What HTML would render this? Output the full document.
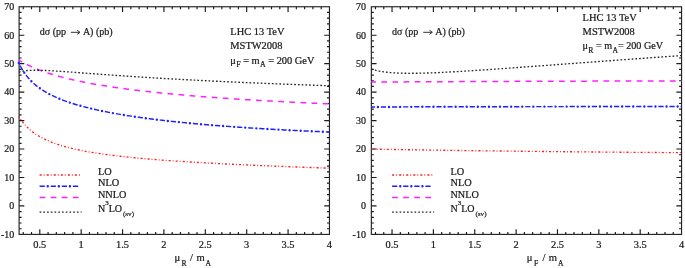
<!DOCTYPE html>
<html><head><meta charset="utf-8"><style>
html,body{margin:0;padding:0;background:#fff;}
svg{display:block;filter:blur(0.3px);}
.t{font-family:"Liberation Serif",serif;font-size:10px;fill:#1a1a1a;}
text{stroke:#1a1a1a;stroke-width:0.22px;}
.ti{font-family:"Liberation Serif",serif;font-size:10.6px;fill:#1a1a1a;}
.ts{font-family:"Liberation Serif",serif;font-size:7.6px;fill:#1a1a1a;}
</style></head><body>
<svg width="685" height="268" viewBox="0 0 685 268">
<rect width="685" height="268" fill="#fff"/>
<path d="M19.1,228.71h2.5M329.45,228.71h-2.5M19.1,223.02h2.5M329.45,223.02h-2.5M19.1,217.33h2.5M329.45,217.33h-2.5M19.1,211.63h2.5M329.45,211.63h-2.5M19.1,205.94h5.2M329.45,205.94h-5.2M19.1,200.25h2.5M329.45,200.25h-2.5M19.1,194.56h2.5M329.45,194.56h-2.5M19.1,188.87h2.5M329.45,188.87h-2.5M19.1,183.18h2.5M329.45,183.18h-2.5M19.1,177.49h5.2M329.45,177.49h-5.2M19.1,171.80h2.5M329.45,171.80h-2.5M19.1,166.10h2.5M329.45,166.10h-2.5M19.1,160.41h2.5M329.45,160.41h-2.5M19.1,154.72h2.5M329.45,154.72h-2.5M19.1,149.03h5.2M329.45,149.03h-5.2M19.1,143.34h2.5M329.45,143.34h-2.5M19.1,137.65h2.5M329.45,137.65h-2.5M19.1,131.96h2.5M329.45,131.96h-2.5M19.1,126.27h2.5M329.45,126.27h-2.5M19.1,120.58h5.2M329.45,120.58h-5.2M19.1,114.88h2.5M329.45,114.88h-2.5M19.1,109.19h2.5M329.45,109.19h-2.5M19.1,103.50h2.5M329.45,103.50h-2.5M19.1,97.81h2.5M329.45,97.81h-2.5M19.1,92.12h5.2M329.45,92.12h-5.2M19.1,86.43h2.5M329.45,86.43h-2.5M19.1,80.74h2.5M329.45,80.74h-2.5M19.1,75.05h2.5M329.45,75.05h-2.5M19.1,69.35h2.5M329.45,69.35h-2.5M19.1,63.66h5.2M329.45,63.66h-5.2M19.1,57.97h2.5M329.45,57.97h-2.5M19.1,52.28h2.5M329.45,52.28h-2.5M19.1,46.59h2.5M329.45,46.59h-2.5M19.1,40.90h2.5M329.45,40.90h-2.5M19.1,35.21h5.2M329.45,35.21h-5.2M19.1,29.52h2.5M329.45,29.52h-2.5M19.1,23.82h2.5M329.45,23.82h-2.5M19.1,18.13h2.5M329.45,18.13h-2.5M19.1,12.44h2.5M329.45,12.44h-2.5M23.24,234.4v-2.5M23.24,6.75v2.5M31.51,234.4v-2.5M31.51,6.75v2.5M39.79,234.4v-5.2M39.79,6.75v5.2M48.07,234.4v-2.5M48.07,6.75v2.5M56.34,234.4v-2.5M56.34,6.75v2.5M64.62,234.4v-2.5M64.62,6.75v2.5M72.89,234.4v-2.5M72.89,6.75v2.5M81.17,234.4v-5.2M81.17,6.75v5.2M89.45,234.4v-2.5M89.45,6.75v2.5M97.72,234.4v-2.5M97.72,6.75v2.5M106.00,234.4v-2.5M106.00,6.75v2.5M114.27,234.4v-2.5M114.27,6.75v2.5M122.55,234.4v-5.2M122.55,6.75v5.2M130.83,234.4v-2.5M130.83,6.75v2.5M139.10,234.4v-2.5M139.10,6.75v2.5M147.38,234.4v-2.5M147.38,6.75v2.5M155.65,234.4v-2.5M155.65,6.75v2.5M163.93,234.4v-5.2M163.93,6.75v5.2M172.21,234.4v-2.5M172.21,6.75v2.5M180.48,234.4v-2.5M180.48,6.75v2.5M188.76,234.4v-2.5M188.76,6.75v2.5M197.03,234.4v-2.5M197.03,6.75v2.5M205.31,234.4v-5.2M205.31,6.75v5.2M213.59,234.4v-2.5M213.59,6.75v2.5M221.86,234.4v-2.5M221.86,6.75v2.5M230.14,234.4v-2.5M230.14,6.75v2.5M238.41,234.4v-2.5M238.41,6.75v2.5M246.69,234.4v-5.2M246.69,6.75v5.2M254.97,234.4v-2.5M254.97,6.75v2.5M263.24,234.4v-2.5M263.24,6.75v2.5M271.52,234.4v-2.5M271.52,6.75v2.5M279.79,234.4v-2.5M279.79,6.75v2.5M288.07,234.4v-5.2M288.07,6.75v5.2M296.35,234.4v-2.5M296.35,6.75v2.5M304.62,234.4v-2.5M304.62,6.75v2.5M312.90,234.4v-2.5M312.90,6.75v2.5M321.17,234.4v-2.5M321.17,6.75v2.5" stroke="#1a1a1a" stroke-width="1.15" fill="none"/>
<rect x="19.1" y="6.75" width="310.35" height="227.65" fill="none" stroke="#222" stroke-width="1.15"/>
<path d="M18.80,116.38 L20.36,118.84 L21.92,121.05 L23.48,123.06 L25.04,124.88 L26.60,126.55 L28.16,128.09 L29.72,129.51 L31.28,130.83 L32.84,132.06 L34.40,133.20 L35.96,134.27 L37.52,135.28 L39.08,136.22 L40.64,137.12 L42.20,137.96 L43.76,138.76 L45.32,139.52 L46.88,140.24 L48.44,140.92 L50.00,141.58 L51.56,142.20 L53.12,142.80 L54.68,143.37 L56.24,143.92 L57.79,144.44 L59.35,144.95 L60.91,145.43 L62.47,145.90 L64.03,146.35 L65.59,146.78 L67.15,147.20 L68.71,147.61 L70.27,148.00 L71.83,148.38 L73.39,148.75 L74.95,149.10 L76.51,149.45 L78.07,149.78 L79.63,150.11 L81.19,150.42 L82.75,150.73 L84.31,151.03 L85.87,151.32 L87.43,151.60 L88.99,151.88 L90.55,152.15 L92.11,152.41 L93.67,152.66 L95.23,152.91 L96.79,153.16 L98.35,153.39 L99.91,153.63 L101.47,153.85 L103.03,154.08 L104.59,154.29 L106.15,154.51 L107.71,154.72 L109.27,154.92 L110.83,155.12 L112.39,155.32 L113.95,155.51 L115.51,155.70 L117.07,155.88 L118.63,156.06 L120.19,156.24 L121.75,156.42 L123.31,156.59 L124.87,156.76 L126.43,156.92 L127.99,157.09 L129.55,157.25 L131.11,157.40 L132.67,157.56 L134.23,157.71 L135.78,157.86 L137.34,158.01 L138.90,158.16 L140.46,158.30 L142.02,158.44 L143.58,158.58 L145.14,158.72 L146.70,158.85 L148.26,158.98 L149.82,159.12 L151.38,159.25 L152.94,159.37 L154.50,159.50 L156.06,159.62 L157.62,159.75 L159.18,159.87 L160.74,159.99 L162.30,160.11 L163.86,160.22 L165.42,160.34 L166.98,160.45 L168.54,160.56 L170.10,160.67 L171.66,160.78 L173.22,160.89 L174.78,161.00 L176.34,161.10 L177.90,161.21 L179.46,161.31 L181.02,161.42 L182.58,161.52 L184.14,161.62 L185.70,161.72 L187.26,161.81 L188.82,161.91 L190.38,162.01 L191.94,162.10 L193.50,162.20 L195.06,162.29 L196.62,162.38 L198.18,162.47 L199.74,162.56 L201.30,162.65 L202.86,162.74 L204.42,162.83 L205.98,162.92 L207.54,163.01 L209.10,163.09 L210.66,163.18 L212.22,163.26 L213.77,163.34 L215.33,163.43 L216.89,163.51 L218.45,163.59 L220.01,163.67 L221.57,163.75 L223.13,163.83 L224.69,163.91 L226.25,163.99 L227.81,164.06 L229.37,164.14 L230.93,164.22 L232.49,164.29 L234.05,164.37 L235.61,164.44 L237.17,164.52 L238.73,164.59 L240.29,164.66 L241.85,164.73 L243.41,164.81 L244.97,164.88 L246.53,164.95 L248.09,165.02 L249.65,165.09 L251.21,165.16 L252.77,165.23 L254.33,165.29 L255.89,165.36 L257.45,165.43 L259.01,165.50 L260.57,165.56 L262.13,165.63 L263.69,165.70 L265.25,165.76 L266.81,165.83 L268.37,165.89 L269.93,165.95 L271.49,166.02 L273.05,166.08 L274.61,166.14 L276.17,166.21 L277.73,166.27 L279.29,166.33 L280.85,166.39 L282.41,166.45 L283.97,166.51 L285.53,166.57 L287.09,166.63 L288.65,166.69 L290.21,166.75 L291.76,166.81 L293.32,166.87 L294.88,166.93 L296.44,166.99 L298.00,167.05 L299.56,167.10 L301.12,167.16 L302.68,167.22 L304.24,167.27 L305.80,167.33 L307.36,167.39 L308.92,167.44 L310.48,167.50 L312.04,167.55 L313.60,167.61 L315.16,167.66 L316.72,167.72 L318.28,167.77 L319.84,167.83 L321.40,167.88 L322.96,167.93 L324.52,167.99 L326.08,168.04 L327.64,168.09 L329.20,168.14" fill="none" stroke="#ff2020" stroke-width="1.35" stroke-dasharray="2.1 1.95 0.9 2.1" stroke-dashoffset="0.75" stroke-linecap="butt"/>
<path d="M18.80,63.03 L20.36,66.18 L21.92,68.98 L23.48,71.49 L25.04,73.77 L26.60,75.84 L28.16,77.75 L29.72,79.50 L31.28,81.12 L32.84,82.63 L34.40,84.03 L35.96,85.35 L37.52,86.59 L39.08,87.76 L40.64,88.86 L42.20,89.91 L43.76,90.90 L45.32,91.84 L46.88,92.74 L48.44,93.60 L50.00,94.43 L51.56,95.21 L53.12,95.97 L54.68,96.70 L56.24,97.40 L57.79,98.08 L59.35,98.73 L60.91,99.36 L62.47,99.97 L64.03,100.56 L65.59,101.13 L67.15,101.68 L68.71,102.22 L70.27,102.74 L71.83,103.25 L73.39,103.74 L74.95,104.22 L76.51,104.69 L78.07,105.15 L79.63,105.59 L81.19,106.03 L82.75,106.45 L84.31,106.86 L85.87,107.27 L87.43,107.66 L88.99,108.05 L90.55,108.43 L92.11,108.80 L93.67,109.16 L95.23,109.52 L96.79,109.87 L98.35,110.21 L99.91,110.54 L101.47,110.87 L103.03,111.19 L104.59,111.51 L106.15,111.82 L107.71,112.13 L109.27,112.43 L110.83,112.72 L112.39,113.01 L113.95,113.30 L115.51,113.58 L117.07,113.85 L118.63,114.12 L120.19,114.39 L121.75,114.65 L123.31,114.91 L124.87,115.16 L126.43,115.41 L127.99,115.66 L129.55,115.90 L131.11,116.14 L132.67,116.38 L134.23,116.61 L135.78,116.84 L137.34,117.07 L138.90,117.29 L140.46,117.51 L142.02,117.73 L143.58,117.94 L145.14,118.15 L146.70,118.36 L148.26,118.57 L149.82,118.77 L151.38,118.97 L152.94,119.17 L154.50,119.36 L156.06,119.55 L157.62,119.74 L159.18,119.93 L160.74,120.12 L162.30,120.30 L163.86,120.48 L165.42,120.66 L166.98,120.84 L168.54,121.01 L170.10,121.18 L171.66,121.35 L173.22,121.52 L174.78,121.69 L176.34,121.85 L177.90,122.02 L179.46,122.18 L181.02,122.34 L182.58,122.49 L184.14,122.65 L185.70,122.80 L187.26,122.95 L188.82,123.11 L190.38,123.25 L191.94,123.40 L193.50,123.55 L195.06,123.69 L196.62,123.83 L198.18,123.97 L199.74,124.11 L201.30,124.25 L202.86,124.39 L204.42,124.52 L205.98,124.66 L207.54,124.79 L209.10,124.92 L210.66,125.05 L212.22,125.18 L213.77,125.31 L215.33,125.43 L216.89,125.56 L218.45,125.68 L220.01,125.80 L221.57,125.92 L223.13,126.04 L224.69,126.16 L226.25,126.28 L227.81,126.39 L229.37,126.51 L230.93,126.62 L232.49,126.74 L234.05,126.85 L235.61,126.96 L237.17,127.07 L238.73,127.18 L240.29,127.28 L241.85,127.39 L243.41,127.49 L244.97,127.60 L246.53,127.70 L248.09,127.81 L249.65,127.91 L251.21,128.01 L252.77,128.11 L254.33,128.21 L255.89,128.30 L257.45,128.40 L259.01,128.50 L260.57,128.59 L262.13,128.69 L263.69,128.78 L265.25,128.87 L266.81,128.96 L268.37,129.05 L269.93,129.14 L271.49,129.23 L273.05,129.32 L274.61,129.41 L276.17,129.50 L277.73,129.58 L279.29,129.67 L280.85,129.75 L282.41,129.84 L283.97,129.92 L285.53,130.00 L287.09,130.08 L288.65,130.16 L290.21,130.24 L291.76,130.32 L293.32,130.40 L294.88,130.48 L296.44,130.56 L298.00,130.63 L299.56,130.71 L301.12,130.78 L302.68,130.86 L304.24,130.93 L305.80,131.01 L307.36,131.08 L308.92,131.15 L310.48,131.22 L312.04,131.29 L313.60,131.36 L315.16,131.43 L316.72,131.50 L318.28,131.57 L319.84,131.64 L321.40,131.70 L322.96,131.77 L324.52,131.84 L326.08,131.90 L327.64,131.97 L329.20,132.03" fill="none" stroke="#2020ff" stroke-width="1.45" stroke-dasharray="5.2 5.9" stroke-dashoffset="-2.95" stroke-linecap="butt"/>
<path d="M18.80,63.03 L20.36,66.18 L21.92,68.98 L23.48,71.49 L25.04,73.77 L26.60,75.84 L28.16,77.75 L29.72,79.50 L31.28,81.12 L32.84,82.63 L34.40,84.03 L35.96,85.35 L37.52,86.59 L39.08,87.76 L40.64,88.86 L42.20,89.91 L43.76,90.90 L45.32,91.84 L46.88,92.74 L48.44,93.60 L50.00,94.43 L51.56,95.21 L53.12,95.97 L54.68,96.70 L56.24,97.40 L57.79,98.08 L59.35,98.73 L60.91,99.36 L62.47,99.97 L64.03,100.56 L65.59,101.13 L67.15,101.68 L68.71,102.22 L70.27,102.74 L71.83,103.25 L73.39,103.74 L74.95,104.22 L76.51,104.69 L78.07,105.15 L79.63,105.59 L81.19,106.03 L82.75,106.45 L84.31,106.86 L85.87,107.27 L87.43,107.66 L88.99,108.05 L90.55,108.43 L92.11,108.80 L93.67,109.16 L95.23,109.52 L96.79,109.87 L98.35,110.21 L99.91,110.54 L101.47,110.87 L103.03,111.19 L104.59,111.51 L106.15,111.82 L107.71,112.13 L109.27,112.43 L110.83,112.72 L112.39,113.01 L113.95,113.30 L115.51,113.58 L117.07,113.85 L118.63,114.12 L120.19,114.39 L121.75,114.65 L123.31,114.91 L124.87,115.16 L126.43,115.41 L127.99,115.66 L129.55,115.90 L131.11,116.14 L132.67,116.38 L134.23,116.61 L135.78,116.84 L137.34,117.07 L138.90,117.29 L140.46,117.51 L142.02,117.73 L143.58,117.94 L145.14,118.15 L146.70,118.36 L148.26,118.57 L149.82,118.77 L151.38,118.97 L152.94,119.17 L154.50,119.36 L156.06,119.55 L157.62,119.74 L159.18,119.93 L160.74,120.12 L162.30,120.30 L163.86,120.48 L165.42,120.66 L166.98,120.84 L168.54,121.01 L170.10,121.18 L171.66,121.35 L173.22,121.52 L174.78,121.69 L176.34,121.85 L177.90,122.02 L179.46,122.18 L181.02,122.34 L182.58,122.49 L184.14,122.65 L185.70,122.80 L187.26,122.95 L188.82,123.11 L190.38,123.25 L191.94,123.40 L193.50,123.55 L195.06,123.69 L196.62,123.83 L198.18,123.97 L199.74,124.11 L201.30,124.25 L202.86,124.39 L204.42,124.52 L205.98,124.66 L207.54,124.79 L209.10,124.92 L210.66,125.05 L212.22,125.18 L213.77,125.31 L215.33,125.43 L216.89,125.56 L218.45,125.68 L220.01,125.80 L221.57,125.92 L223.13,126.04 L224.69,126.16 L226.25,126.28 L227.81,126.39 L229.37,126.51 L230.93,126.62 L232.49,126.74 L234.05,126.85 L235.61,126.96 L237.17,127.07 L238.73,127.18 L240.29,127.28 L241.85,127.39 L243.41,127.49 L244.97,127.60 L246.53,127.70 L248.09,127.81 L249.65,127.91 L251.21,128.01 L252.77,128.11 L254.33,128.21 L255.89,128.30 L257.45,128.40 L259.01,128.50 L260.57,128.59 L262.13,128.69 L263.69,128.78 L265.25,128.87 L266.81,128.96 L268.37,129.05 L269.93,129.14 L271.49,129.23 L273.05,129.32 L274.61,129.41 L276.17,129.50 L277.73,129.58 L279.29,129.67 L280.85,129.75 L282.41,129.84 L283.97,129.92 L285.53,130.00 L287.09,130.08 L288.65,130.16 L290.21,130.24 L291.76,130.32 L293.32,130.40 L294.88,130.48 L296.44,130.56 L298.00,130.63 L299.56,130.71 L301.12,130.78 L302.68,130.86 L304.24,130.93 L305.80,131.01 L307.36,131.08 L308.92,131.15 L310.48,131.22 L312.04,131.29 L313.60,131.36 L315.16,131.43 L316.72,131.50 L318.28,131.57 L319.84,131.64 L321.40,131.70 L322.96,131.77 L324.52,131.84 L326.08,131.90 L327.64,131.97 L329.20,132.03" fill="none" stroke="#2020ff" stroke-width="2.4" stroke-dasharray="0 11.1" stroke-dashoffset="-11.10" stroke-linecap="round"/>
<path d="M18.80,59.91 L20.36,60.87 L21.92,61.79 L23.48,62.68 L25.04,63.52 L26.60,64.34 L28.16,65.12 L29.72,65.87 L31.28,66.60 L32.84,67.30 L34.40,67.98 L35.96,68.63 L37.52,69.27 L39.08,69.88 L40.64,70.47 L42.20,71.05 L43.76,71.61 L45.32,72.15 L46.88,72.68 L48.44,73.20 L50.00,73.70 L51.56,74.19 L53.12,74.66 L54.68,75.12 L56.24,75.58 L57.79,76.02 L59.35,76.45 L60.91,76.87 L62.47,77.28 L64.03,77.68 L65.59,78.08 L67.15,78.46 L68.71,78.84 L70.27,79.21 L71.83,79.57 L73.39,79.93 L74.95,80.27 L76.51,80.62 L78.07,80.95 L79.63,81.28 L81.19,81.60 L82.75,81.92 L84.31,82.23 L85.87,82.53 L87.43,82.83 L88.99,83.13 L90.55,83.42 L92.11,83.70 L93.67,83.98 L95.23,84.26 L96.79,84.53 L98.35,84.79 L99.91,85.06 L101.47,85.32 L103.03,85.57 L104.59,85.82 L106.15,86.07 L107.71,86.31 L109.27,86.55 L110.83,86.79 L112.39,87.02 L113.95,87.25 L115.51,87.48 L117.07,87.70 L118.63,87.92 L120.19,88.14 L121.75,88.35 L123.31,88.56 L124.87,88.77 L126.43,88.98 L127.99,89.18 L129.55,89.38 L131.11,89.58 L132.67,89.77 L134.23,89.97 L135.78,90.16 L137.34,90.35 L138.90,90.53 L140.46,90.72 L142.02,90.90 L143.58,91.08 L145.14,91.25 L146.70,91.43 L148.26,91.60 L149.82,91.77 L151.38,91.94 L152.94,92.11 L154.50,92.28 L156.06,92.44 L157.62,92.60 L159.18,92.76 L160.74,92.92 L162.30,93.08 L163.86,93.23 L165.42,93.39 L166.98,93.54 L168.54,93.69 L170.10,93.84 L171.66,93.99 L173.22,94.13 L174.78,94.28 L176.34,94.42 L177.90,94.56 L179.46,94.70 L181.02,94.84 L182.58,94.98 L184.14,95.11 L185.70,95.25 L187.26,95.38 L188.82,95.51 L190.38,95.64 L191.94,95.77 L193.50,95.90 L195.06,96.03 L196.62,96.15 L198.18,96.28 L199.74,96.40 L201.30,96.53 L202.86,96.65 L204.42,96.77 L205.98,96.89 L207.54,97.00 L209.10,97.12 L210.66,97.24 L212.22,97.35 L213.77,97.47 L215.33,97.58 L216.89,97.69 L218.45,97.80 L220.01,97.91 L221.57,98.02 L223.13,98.13 L224.69,98.24 L226.25,98.35 L227.81,98.45 L229.37,98.56 L230.93,98.66 L232.49,98.77 L234.05,98.87 L235.61,98.97 L237.17,99.07 L238.73,99.17 L240.29,99.27 L241.85,99.37 L243.41,99.47 L244.97,99.56 L246.53,99.66 L248.09,99.75 L249.65,99.85 L251.21,99.94 L252.77,100.04 L254.33,100.13 L255.89,100.22 L257.45,100.31 L259.01,100.40 L260.57,100.49 L262.13,100.58 L263.69,100.67 L265.25,100.76 L266.81,100.85 L268.37,100.93 L269.93,101.02 L271.49,101.10 L273.05,101.19 L274.61,101.27 L276.17,101.36 L277.73,101.44 L279.29,101.52 L280.85,101.60 L282.41,101.68 L283.97,101.76 L285.53,101.84 L287.09,101.92 L288.65,102.00 L290.21,102.08 L291.76,102.16 L293.32,102.24 L294.88,102.31 L296.44,102.39 L298.00,102.47 L299.56,102.54 L301.12,102.62 L302.68,102.69 L304.24,102.76 L305.80,102.84 L307.36,102.91 L308.92,102.98 L310.48,103.05 L312.04,103.13 L313.60,103.20 L315.16,103.27 L316.72,103.34 L318.28,103.41 L319.84,103.48 L321.40,103.55 L322.96,103.61 L324.52,103.68 L326.08,103.75 L327.64,103.82 L329.20,103.88" fill="none" stroke="#ff20ff" stroke-width="1.5" stroke-dasharray="5.7 5.4" stroke-dashoffset="1.80" stroke-linecap="butt"/>
<path d="M18.80,72.18 L20.36,71.73 L21.92,71.37 L23.48,71.07 L25.04,70.84 L26.60,70.66 L28.16,70.51 L29.72,70.41 L31.28,70.33 L32.84,70.28 L34.40,70.25 L35.96,70.24 L37.52,70.24 L39.08,70.27 L40.64,70.30 L42.20,70.34 L43.76,70.40 L45.32,70.46 L46.88,70.53 L48.44,70.60 L50.00,70.68 L51.56,70.77 L53.12,70.86 L54.68,70.95 L56.24,71.05 L57.79,71.15 L59.35,71.26 L60.91,71.36 L62.47,71.47 L64.03,71.58 L65.59,71.69 L67.15,71.80 L68.71,71.92 L70.27,72.03 L71.83,72.15 L73.39,72.26 L74.95,72.38 L76.51,72.50 L78.07,72.61 L79.63,72.73 L81.19,72.85 L82.75,72.97 L84.31,73.08 L85.87,73.20 L87.43,73.32 L88.99,73.43 L90.55,73.55 L92.11,73.67 L93.67,73.78 L95.23,73.90 L96.79,74.01 L98.35,74.13 L99.91,74.24 L101.47,74.36 L103.03,74.47 L104.59,74.58 L106.15,74.70 L107.71,74.81 L109.27,74.92 L110.83,75.03 L112.39,75.14 L113.95,75.25 L115.51,75.36 L117.07,75.47 L118.63,75.58 L120.19,75.69 L121.75,75.79 L123.31,75.90 L124.87,76.01 L126.43,76.11 L127.99,76.21 L129.55,76.32 L131.11,76.42 L132.67,76.52 L134.23,76.63 L135.78,76.73 L137.34,76.83 L138.90,76.93 L140.46,77.03 L142.02,77.13 L143.58,77.23 L145.14,77.33 L146.70,77.42 L148.26,77.52 L149.82,77.62 L151.38,77.71 L152.94,77.81 L154.50,77.90 L156.06,77.99 L157.62,78.09 L159.18,78.18 L160.74,78.27 L162.30,78.36 L163.86,78.46 L165.42,78.55 L166.98,78.64 L168.54,78.73 L170.10,78.82 L171.66,78.90 L173.22,78.99 L174.78,79.08 L176.34,79.17 L177.90,79.25 L179.46,79.34 L181.02,79.42 L182.58,79.51 L184.14,79.59 L185.70,79.68 L187.26,79.76 L188.82,79.84 L190.38,79.92 L191.94,80.01 L193.50,80.09 L195.06,80.17 L196.62,80.25 L198.18,80.33 L199.74,80.41 L201.30,80.49 L202.86,80.57 L204.42,80.65 L205.98,80.72 L207.54,80.80 L209.10,80.88 L210.66,80.95 L212.22,81.03 L213.77,81.11 L215.33,81.18 L216.89,81.26 L218.45,81.33 L220.01,81.40 L221.57,81.48 L223.13,81.55 L224.69,81.62 L226.25,81.70 L227.81,81.77 L229.37,81.84 L230.93,81.91 L232.49,81.98 L234.05,82.05 L235.61,82.12 L237.17,82.19 L238.73,82.26 L240.29,82.33 L241.85,82.40 L243.41,82.47 L244.97,82.53 L246.53,82.60 L248.09,82.67 L249.65,82.74 L251.21,82.80 L252.77,82.87 L254.33,82.93 L255.89,83.00 L257.45,83.06 L259.01,83.13 L260.57,83.19 L262.13,83.26 L263.69,83.32 L265.25,83.39 L266.81,83.45 L268.37,83.51 L269.93,83.57 L271.49,83.64 L273.05,83.70 L274.61,83.76 L276.17,83.82 L277.73,83.88 L279.29,83.94 L280.85,84.00 L282.41,84.06 L283.97,84.12 L285.53,84.18 L287.09,84.24 L288.65,84.30 L290.21,84.36 L291.76,84.42 L293.32,84.48 L294.88,84.53 L296.44,84.59 L298.00,84.65 L299.56,84.71 L301.12,84.76 L302.68,84.82 L304.24,84.87 L305.80,84.93 L307.36,84.99 L308.92,85.04 L310.48,85.10 L312.04,85.15 L313.60,85.21 L315.16,85.26 L316.72,85.32 L318.28,85.37 L319.84,85.42 L321.40,85.48 L322.96,85.53 L324.52,85.58 L326.08,85.64 L327.64,85.69 L329.20,85.74" fill="none" stroke="#262626" stroke-width="1.35" stroke-dasharray="1.7 2.03" stroke-dashoffset="0.00" stroke-linecap="butt"/>
<text x="14.30" y="237.70" text-anchor="end" class="t">-10</text>
<text x="14.30" y="209.24" text-anchor="end" class="t">0</text>
<text x="14.30" y="180.79" text-anchor="end" class="t">10</text>
<text x="14.30" y="152.33" text-anchor="end" class="t">20</text>
<text x="14.30" y="123.88" text-anchor="end" class="t">30</text>
<text x="14.30" y="95.42" text-anchor="end" class="t">40</text>
<text x="14.30" y="66.96" text-anchor="end" class="t">50</text>
<text x="14.30" y="38.51" text-anchor="end" class="t">60</text>
<text x="14.30" y="10.05" text-anchor="end" class="t">70</text>
<text x="39.79" y="247.6" text-anchor="middle" class="t" style="font-size:10.4px">0.5</text>
<text x="81.17" y="247.6" text-anchor="middle" class="t" style="font-size:10.4px">1</text>
<text x="122.55" y="247.6" text-anchor="middle" class="t" style="font-size:10.4px">1.5</text>
<text x="163.93" y="247.6" text-anchor="middle" class="t" style="font-size:10.4px">2</text>
<text x="205.31" y="247.6" text-anchor="middle" class="t" style="font-size:10.4px">2.5</text>
<text x="246.69" y="247.6" text-anchor="middle" class="t" style="font-size:10.4px">3</text>
<text x="288.07" y="247.6" text-anchor="middle" class="t" style="font-size:10.4px">3.5</text>
<text x="329.45" y="247.6" text-anchor="middle" class="t" style="font-size:10.4px">4</text>
<path d="M371.35,228.71h2.5M681.55,228.71h-2.5M371.35,223.02h2.5M681.55,223.02h-2.5M371.35,217.33h2.5M681.55,217.33h-2.5M371.35,211.63h2.5M681.55,211.63h-2.5M371.35,205.94h5.2M681.55,205.94h-5.2M371.35,200.25h2.5M681.55,200.25h-2.5M371.35,194.56h2.5M681.55,194.56h-2.5M371.35,188.87h2.5M681.55,188.87h-2.5M371.35,183.18h2.5M681.55,183.18h-2.5M371.35,177.49h5.2M681.55,177.49h-5.2M371.35,171.80h2.5M681.55,171.80h-2.5M371.35,166.10h2.5M681.55,166.10h-2.5M371.35,160.41h2.5M681.55,160.41h-2.5M371.35,154.72h2.5M681.55,154.72h-2.5M371.35,149.03h5.2M681.55,149.03h-5.2M371.35,143.34h2.5M681.55,143.34h-2.5M371.35,137.65h2.5M681.55,137.65h-2.5M371.35,131.96h2.5M681.55,131.96h-2.5M371.35,126.27h2.5M681.55,126.27h-2.5M371.35,120.58h5.2M681.55,120.58h-5.2M371.35,114.88h2.5M681.55,114.88h-2.5M371.35,109.19h2.5M681.55,109.19h-2.5M371.35,103.50h2.5M681.55,103.50h-2.5M371.35,97.81h2.5M681.55,97.81h-2.5M371.35,92.12h5.2M681.55,92.12h-5.2M371.35,86.43h2.5M681.55,86.43h-2.5M371.35,80.74h2.5M681.55,80.74h-2.5M371.35,75.05h2.5M681.55,75.05h-2.5M371.35,69.35h2.5M681.55,69.35h-2.5M371.35,63.66h5.2M681.55,63.66h-5.2M371.35,57.97h2.5M681.55,57.97h-2.5M371.35,52.28h2.5M681.55,52.28h-2.5M371.35,46.59h2.5M681.55,46.59h-2.5M371.35,40.90h2.5M681.55,40.90h-2.5M371.35,35.21h5.2M681.55,35.21h-5.2M371.35,29.52h2.5M681.55,29.52h-2.5M371.35,23.82h2.5M681.55,23.82h-2.5M371.35,18.13h2.5M681.55,18.13h-2.5M371.35,12.44h2.5M681.55,12.44h-2.5M375.49,234.4v-2.5M375.49,6.75v2.5M383.76,234.4v-2.5M383.76,6.75v2.5M392.03,234.4v-5.2M392.03,6.75v5.2M400.30,234.4v-2.5M400.30,6.75v2.5M408.57,234.4v-2.5M408.57,6.75v2.5M416.85,234.4v-2.5M416.85,6.75v2.5M425.12,234.4v-2.5M425.12,6.75v2.5M433.39,234.4v-5.2M433.39,6.75v5.2M441.66,234.4v-2.5M441.66,6.75v2.5M449.93,234.4v-2.5M449.93,6.75v2.5M458.21,234.4v-2.5M458.21,6.75v2.5M466.48,234.4v-2.5M466.48,6.75v2.5M474.75,234.4v-5.2M474.75,6.75v5.2M483.02,234.4v-2.5M483.02,6.75v2.5M491.29,234.4v-2.5M491.29,6.75v2.5M499.57,234.4v-2.5M499.57,6.75v2.5M507.84,234.4v-2.5M507.84,6.75v2.5M516.11,234.4v-5.2M516.11,6.75v5.2M524.38,234.4v-2.5M524.38,6.75v2.5M532.65,234.4v-2.5M532.65,6.75v2.5M540.93,234.4v-2.5M540.93,6.75v2.5M549.20,234.4v-2.5M549.20,6.75v2.5M557.47,234.4v-5.2M557.47,6.75v5.2M565.74,234.4v-2.5M565.74,6.75v2.5M574.01,234.4v-2.5M574.01,6.75v2.5M582.29,234.4v-2.5M582.29,6.75v2.5M590.56,234.4v-2.5M590.56,6.75v2.5M598.83,234.4v-5.2M598.83,6.75v5.2M607.10,234.4v-2.5M607.10,6.75v2.5M615.37,234.4v-2.5M615.37,6.75v2.5M623.65,234.4v-2.5M623.65,6.75v2.5M631.92,234.4v-2.5M631.92,6.75v2.5M640.19,234.4v-5.2M640.19,6.75v5.2M648.46,234.4v-2.5M648.46,6.75v2.5M656.73,234.4v-2.5M656.73,6.75v2.5M665.01,234.4v-2.5M665.01,6.75v2.5M673.28,234.4v-2.5M673.28,6.75v2.5" stroke="#1a1a1a" stroke-width="1.15" fill="none"/>
<rect x="371.35" y="6.75" width="310.20" height="227.65" fill="none" stroke="#222" stroke-width="1.15"/>
<path d="M371.40,149.17 L372.96,149.17 L374.52,149.19 L376.08,149.20 L377.64,149.22 L379.19,149.24 L380.75,149.26 L382.31,149.28 L383.87,149.31 L385.43,149.33 L386.99,149.36 L388.55,149.38 L390.11,149.41 L391.66,149.43 L393.22,149.46 L394.78,149.48 L396.34,149.51 L397.90,149.54 L399.46,149.56 L401.02,149.59 L402.58,149.62 L404.13,149.64 L405.69,149.67 L407.25,149.69 L408.81,149.72 L410.37,149.75 L411.93,149.77 L413.49,149.80 L415.05,149.82 L416.61,149.85 L418.16,149.88 L419.72,149.90 L421.28,149.93 L422.84,149.95 L424.40,149.98 L425.96,150.00 L427.52,150.03 L429.08,150.05 L430.63,150.07 L432.19,150.10 L433.75,150.12 L435.31,150.15 L436.87,150.17 L438.43,150.19 L439.99,150.22 L441.55,150.24 L443.10,150.26 L444.66,150.29 L446.22,150.31 L447.78,150.33 L449.34,150.36 L450.90,150.38 L452.46,150.40 L454.02,150.42 L455.57,150.44 L457.13,150.47 L458.69,150.49 L460.25,150.51 L461.81,150.53 L463.37,150.55 L464.93,150.57 L466.49,150.59 L468.05,150.61 L469.60,150.64 L471.16,150.66 L472.72,150.68 L474.28,150.70 L475.84,150.72 L477.40,150.74 L478.96,150.76 L480.52,150.78 L482.07,150.80 L483.63,150.82 L485.19,150.84 L486.75,150.86 L488.31,150.88 L489.87,150.89 L491.43,150.91 L492.99,150.93 L494.54,150.95 L496.10,150.97 L497.66,150.99 L499.22,151.01 L500.78,151.03 L502.34,151.05 L503.90,151.06 L505.46,151.08 L507.02,151.10 L508.57,151.12 L510.13,151.14 L511.69,151.15 L513.25,151.17 L514.81,151.19 L516.37,151.21 L517.93,151.22 L519.49,151.24 L521.04,151.26 L522.60,151.28 L524.16,151.29 L525.72,151.31 L527.28,151.33 L528.84,151.34 L530.40,151.36 L531.96,151.38 L533.51,151.39 L535.07,151.41 L536.63,151.43 L538.19,151.44 L539.75,151.46 L541.31,151.48 L542.87,151.49 L544.43,151.51 L545.98,151.52 L547.54,151.54 L549.10,151.56 L550.66,151.57 L552.22,151.59 L553.78,151.60 L555.34,151.62 L556.90,151.63 L558.46,151.65 L560.01,151.66 L561.57,151.68 L563.13,151.70 L564.69,151.71 L566.25,151.73 L567.81,151.74 L569.37,151.76 L570.93,151.77 L572.48,151.79 L574.04,151.80 L575.60,151.81 L577.16,151.83 L578.72,151.84 L580.28,151.86 L581.84,151.87 L583.40,151.89 L584.95,151.90 L586.51,151.92 L588.07,151.93 L589.63,151.94 L591.19,151.96 L592.75,151.97 L594.31,151.99 L595.87,152.00 L597.43,152.01 L598.98,152.03 L600.54,152.04 L602.10,152.06 L603.66,152.07 L605.22,152.08 L606.78,152.10 L608.34,152.11 L609.90,152.12 L611.45,152.14 L613.01,152.15 L614.57,152.16 L616.13,152.18 L617.69,152.19 L619.25,152.20 L620.81,152.22 L622.37,152.23 L623.92,152.24 L625.48,152.26 L627.04,152.27 L628.60,152.28 L630.16,152.30 L631.72,152.31 L633.28,152.32 L634.84,152.33 L636.39,152.35 L637.95,152.36 L639.51,152.37 L641.07,152.38 L642.63,152.40 L644.19,152.41 L645.75,152.42 L647.31,152.43 L648.87,152.45 L650.42,152.46 L651.98,152.47 L653.54,152.48 L655.10,152.49 L656.66,152.51 L658.22,152.52 L659.78,152.53 L661.34,152.54 L662.89,152.56 L664.45,152.57 L666.01,152.58 L667.57,152.59 L669.13,152.60 L670.69,152.61 L672.25,152.63 L673.81,152.64 L675.36,152.65 L676.92,152.66 L678.48,152.67 L680.04,152.68 L681.60,152.70" fill="none" stroke="#ff2020" stroke-width="1.35" stroke-dasharray="2.1 1.95 0.9 2.1" stroke-dashoffset="-1.30" stroke-linecap="butt"/>
<path d="M371.40,107.08 L372.96,107.07 L374.52,107.05 L376.08,107.04 L377.64,107.02 L379.19,107.01 L380.75,107.00 L382.31,106.99 L383.87,106.98 L385.43,106.97 L386.99,106.96 L388.55,106.95 L390.11,106.94 L391.66,106.93 L393.22,106.93 L394.78,106.92 L396.34,106.91 L397.90,106.90 L399.46,106.90 L401.02,106.89 L402.58,106.88 L404.13,106.88 L405.69,106.87 L407.25,106.87 L408.81,106.86 L410.37,106.86 L411.93,106.85 L413.49,106.84 L415.05,106.84 L416.61,106.83 L418.16,106.83 L419.72,106.83 L421.28,106.82 L422.84,106.82 L424.40,106.81 L425.96,106.81 L427.52,106.80 L429.08,106.80 L430.63,106.79 L432.19,106.79 L433.75,106.79 L435.31,106.78 L436.87,106.78 L438.43,106.78 L439.99,106.77 L441.55,106.77 L443.10,106.77 L444.66,106.76 L446.22,106.76 L447.78,106.76 L449.34,106.75 L450.90,106.75 L452.46,106.75 L454.02,106.74 L455.57,106.74 L457.13,106.74 L458.69,106.73 L460.25,106.73 L461.81,106.73 L463.37,106.73 L464.93,106.72 L466.49,106.72 L468.05,106.72 L469.60,106.71 L471.16,106.71 L472.72,106.71 L474.28,106.71 L475.84,106.70 L477.40,106.70 L478.96,106.70 L480.52,106.70 L482.07,106.69 L483.63,106.69 L485.19,106.69 L486.75,106.69 L488.31,106.69 L489.87,106.68 L491.43,106.68 L492.99,106.68 L494.54,106.68 L496.10,106.67 L497.66,106.67 L499.22,106.67 L500.78,106.67 L502.34,106.67 L503.90,106.66 L505.46,106.66 L507.02,106.66 L508.57,106.66 L510.13,106.66 L511.69,106.65 L513.25,106.65 L514.81,106.65 L516.37,106.65 L517.93,106.65 L519.49,106.65 L521.04,106.64 L522.60,106.64 L524.16,106.64 L525.72,106.64 L527.28,106.64 L528.84,106.64 L530.40,106.63 L531.96,106.63 L533.51,106.63 L535.07,106.63 L536.63,106.63 L538.19,106.63 L539.75,106.62 L541.31,106.62 L542.87,106.62 L544.43,106.62 L545.98,106.62 L547.54,106.62 L549.10,106.61 L550.66,106.61 L552.22,106.61 L553.78,106.61 L555.34,106.61 L556.90,106.61 L558.46,106.61 L560.01,106.60 L561.57,106.60 L563.13,106.60 L564.69,106.60 L566.25,106.60 L567.81,106.60 L569.37,106.60 L570.93,106.59 L572.48,106.59 L574.04,106.59 L575.60,106.59 L577.16,106.59 L578.72,106.59 L580.28,106.59 L581.84,106.58 L583.40,106.58 L584.95,106.58 L586.51,106.58 L588.07,106.58 L589.63,106.58 L591.19,106.58 L592.75,106.58 L594.31,106.57 L595.87,106.57 L597.43,106.57 L598.98,106.57 L600.54,106.57 L602.10,106.57 L603.66,106.57 L605.22,106.57 L606.78,106.57 L608.34,106.56 L609.90,106.56 L611.45,106.56 L613.01,106.56 L614.57,106.56 L616.13,106.56 L617.69,106.56 L619.25,106.56 L620.81,106.56 L622.37,106.55 L623.92,106.55 L625.48,106.55 L627.04,106.55 L628.60,106.55 L630.16,106.55 L631.72,106.55 L633.28,106.55 L634.84,106.55 L636.39,106.54 L637.95,106.54 L639.51,106.54 L641.07,106.54 L642.63,106.54 L644.19,106.54 L645.75,106.54 L647.31,106.54 L648.87,106.54 L650.42,106.54 L651.98,106.53 L653.54,106.53 L655.10,106.53 L656.66,106.53 L658.22,106.53 L659.78,106.53 L661.34,106.53 L662.89,106.53 L664.45,106.53 L666.01,106.53 L667.57,106.53 L669.13,106.52 L670.69,106.52 L672.25,106.52 L673.81,106.52 L675.36,106.52 L676.92,106.52 L678.48,106.52 L680.04,106.52 L681.60,106.52" fill="none" stroke="#2020ff" stroke-width="1.45" stroke-dasharray="5.2 5.9" stroke-dashoffset="1.60" stroke-linecap="butt"/>
<path d="M371.40,107.08 L372.96,107.07 L374.52,107.05 L376.08,107.04 L377.64,107.02 L379.19,107.01 L380.75,107.00 L382.31,106.99 L383.87,106.98 L385.43,106.97 L386.99,106.96 L388.55,106.95 L390.11,106.94 L391.66,106.93 L393.22,106.93 L394.78,106.92 L396.34,106.91 L397.90,106.90 L399.46,106.90 L401.02,106.89 L402.58,106.88 L404.13,106.88 L405.69,106.87 L407.25,106.87 L408.81,106.86 L410.37,106.86 L411.93,106.85 L413.49,106.84 L415.05,106.84 L416.61,106.83 L418.16,106.83 L419.72,106.83 L421.28,106.82 L422.84,106.82 L424.40,106.81 L425.96,106.81 L427.52,106.80 L429.08,106.80 L430.63,106.79 L432.19,106.79 L433.75,106.79 L435.31,106.78 L436.87,106.78 L438.43,106.78 L439.99,106.77 L441.55,106.77 L443.10,106.77 L444.66,106.76 L446.22,106.76 L447.78,106.76 L449.34,106.75 L450.90,106.75 L452.46,106.75 L454.02,106.74 L455.57,106.74 L457.13,106.74 L458.69,106.73 L460.25,106.73 L461.81,106.73 L463.37,106.73 L464.93,106.72 L466.49,106.72 L468.05,106.72 L469.60,106.71 L471.16,106.71 L472.72,106.71 L474.28,106.71 L475.84,106.70 L477.40,106.70 L478.96,106.70 L480.52,106.70 L482.07,106.69 L483.63,106.69 L485.19,106.69 L486.75,106.69 L488.31,106.69 L489.87,106.68 L491.43,106.68 L492.99,106.68 L494.54,106.68 L496.10,106.67 L497.66,106.67 L499.22,106.67 L500.78,106.67 L502.34,106.67 L503.90,106.66 L505.46,106.66 L507.02,106.66 L508.57,106.66 L510.13,106.66 L511.69,106.65 L513.25,106.65 L514.81,106.65 L516.37,106.65 L517.93,106.65 L519.49,106.65 L521.04,106.64 L522.60,106.64 L524.16,106.64 L525.72,106.64 L527.28,106.64 L528.84,106.64 L530.40,106.63 L531.96,106.63 L533.51,106.63 L535.07,106.63 L536.63,106.63 L538.19,106.63 L539.75,106.62 L541.31,106.62 L542.87,106.62 L544.43,106.62 L545.98,106.62 L547.54,106.62 L549.10,106.61 L550.66,106.61 L552.22,106.61 L553.78,106.61 L555.34,106.61 L556.90,106.61 L558.46,106.61 L560.01,106.60 L561.57,106.60 L563.13,106.60 L564.69,106.60 L566.25,106.60 L567.81,106.60 L569.37,106.60 L570.93,106.59 L572.48,106.59 L574.04,106.59 L575.60,106.59 L577.16,106.59 L578.72,106.59 L580.28,106.59 L581.84,106.58 L583.40,106.58 L584.95,106.58 L586.51,106.58 L588.07,106.58 L589.63,106.58 L591.19,106.58 L592.75,106.58 L594.31,106.57 L595.87,106.57 L597.43,106.57 L598.98,106.57 L600.54,106.57 L602.10,106.57 L603.66,106.57 L605.22,106.57 L606.78,106.57 L608.34,106.56 L609.90,106.56 L611.45,106.56 L613.01,106.56 L614.57,106.56 L616.13,106.56 L617.69,106.56 L619.25,106.56 L620.81,106.56 L622.37,106.55 L623.92,106.55 L625.48,106.55 L627.04,106.55 L628.60,106.55 L630.16,106.55 L631.72,106.55 L633.28,106.55 L634.84,106.55 L636.39,106.54 L637.95,106.54 L639.51,106.54 L641.07,106.54 L642.63,106.54 L644.19,106.54 L645.75,106.54 L647.31,106.54 L648.87,106.54 L650.42,106.54 L651.98,106.53 L653.54,106.53 L655.10,106.53 L656.66,106.53 L658.22,106.53 L659.78,106.53 L661.34,106.53 L662.89,106.53 L664.45,106.53 L666.01,106.53 L667.57,106.53 L669.13,106.52 L670.69,106.52 L672.25,106.52 L673.81,106.52 L675.36,106.52 L676.92,106.52 L678.48,106.52 L680.04,106.52 L681.60,106.52" fill="none" stroke="#2020ff" stroke-width="2.4" stroke-dasharray="0 11.1" stroke-dashoffset="-6.55" stroke-linecap="round"/>
<path d="M371.40,82.10 L372.96,82.10 L374.52,82.09 L376.08,82.08 L377.64,82.07 L379.19,82.06 L380.75,82.05 L382.31,82.04 L383.87,82.03 L385.43,82.02 L386.99,82.00 L388.55,81.99 L390.11,81.98 L391.66,81.97 L393.22,81.96 L394.78,81.95 L396.34,81.94 L397.90,81.93 L399.46,81.92 L401.02,81.91 L402.58,81.90 L404.13,81.89 L405.69,81.88 L407.25,81.87 L408.81,81.86 L410.37,81.85 L411.93,81.84 L413.49,81.83 L415.05,81.83 L416.61,81.82 L418.16,81.81 L419.72,81.80 L421.28,81.79 L422.84,81.78 L424.40,81.77 L425.96,81.76 L427.52,81.75 L429.08,81.75 L430.63,81.74 L432.19,81.73 L433.75,81.72 L435.31,81.71 L436.87,81.70 L438.43,81.70 L439.99,81.69 L441.55,81.68 L443.10,81.67 L444.66,81.66 L446.22,81.66 L447.78,81.65 L449.34,81.64 L450.90,81.63 L452.46,81.63 L454.02,81.62 L455.57,81.61 L457.13,81.60 L458.69,81.60 L460.25,81.59 L461.81,81.58 L463.37,81.57 L464.93,81.57 L466.49,81.56 L468.05,81.55 L469.60,81.55 L471.16,81.54 L472.72,81.53 L474.28,81.53 L475.84,81.52 L477.40,81.51 L478.96,81.51 L480.52,81.50 L482.07,81.49 L483.63,81.49 L485.19,81.48 L486.75,81.47 L488.31,81.47 L489.87,81.46 L491.43,81.45 L492.99,81.45 L494.54,81.44 L496.10,81.44 L497.66,81.43 L499.22,81.42 L500.78,81.42 L502.34,81.41 L503.90,81.40 L505.46,81.40 L507.02,81.39 L508.57,81.39 L510.13,81.38 L511.69,81.38 L513.25,81.37 L514.81,81.36 L516.37,81.36 L517.93,81.35 L519.49,81.35 L521.04,81.34 L522.60,81.34 L524.16,81.33 L525.72,81.32 L527.28,81.32 L528.84,81.31 L530.40,81.31 L531.96,81.30 L533.51,81.30 L535.07,81.29 L536.63,81.29 L538.19,81.28 L539.75,81.28 L541.31,81.27 L542.87,81.27 L544.43,81.26 L545.98,81.26 L547.54,81.25 L549.10,81.25 L550.66,81.24 L552.22,81.23 L553.78,81.23 L555.34,81.22 L556.90,81.22 L558.46,81.21 L560.01,81.21 L561.57,81.20 L563.13,81.20 L564.69,81.20 L566.25,81.19 L567.81,81.19 L569.37,81.18 L570.93,81.18 L572.48,81.17 L574.04,81.17 L575.60,81.16 L577.16,81.16 L578.72,81.15 L580.28,81.15 L581.84,81.14 L583.40,81.14 L584.95,81.13 L586.51,81.13 L588.07,81.12 L589.63,81.12 L591.19,81.12 L592.75,81.11 L594.31,81.11 L595.87,81.10 L597.43,81.10 L598.98,81.09 L600.54,81.09 L602.10,81.08 L603.66,81.08 L605.22,81.08 L606.78,81.07 L608.34,81.07 L609.90,81.06 L611.45,81.06 L613.01,81.05 L614.57,81.05 L616.13,81.05 L617.69,81.04 L619.25,81.04 L620.81,81.03 L622.37,81.03 L623.92,81.02 L625.48,81.02 L627.04,81.02 L628.60,81.01 L630.16,81.01 L631.72,81.00 L633.28,81.00 L634.84,81.00 L636.39,80.99 L637.95,80.99 L639.51,80.98 L641.07,80.98 L642.63,80.98 L644.19,80.97 L645.75,80.97 L647.31,80.96 L648.87,80.96 L650.42,80.96 L651.98,80.95 L653.54,80.95 L655.10,80.95 L656.66,80.94 L658.22,80.94 L659.78,80.93 L661.34,80.93 L662.89,80.93 L664.45,80.92 L666.01,80.92 L667.57,80.91 L669.13,80.91 L670.69,80.91 L672.25,80.90 L673.81,80.90 L675.36,80.90 L676.92,80.89 L678.48,80.89 L680.04,80.89 L681.60,80.88" fill="none" stroke="#ff20ff" stroke-width="1.5" stroke-dasharray="5.7 5.4" stroke-dashoffset="1.10" stroke-linecap="butt"/>
<path d="M371.40,69.08 L372.96,69.58 L374.52,70.02 L376.08,70.42 L377.64,70.78 L379.19,71.09 L380.75,71.38 L382.31,71.63 L383.87,71.86 L385.43,72.06 L386.99,72.25 L388.55,72.41 L390.11,72.55 L391.66,72.68 L393.22,72.79 L394.78,72.89 L396.34,72.98 L397.90,73.05 L399.46,73.11 L401.02,73.16 L402.58,73.21 L404.13,73.24 L405.69,73.27 L407.25,73.28 L408.81,73.30 L410.37,73.30 L411.93,73.30 L413.49,73.29 L415.05,73.27 L416.61,73.26 L418.16,73.23 L419.72,73.20 L421.28,73.17 L422.84,73.13 L424.40,73.09 L425.96,73.05 L427.52,73.00 L429.08,72.95 L430.63,72.89 L432.19,72.83 L433.75,72.77 L435.31,72.71 L436.87,72.64 L438.43,72.57 L439.99,72.50 L441.55,72.43 L443.10,72.36 L444.66,72.28 L446.22,72.20 L447.78,72.12 L449.34,72.04 L450.90,71.95 L452.46,71.87 L454.02,71.78 L455.57,71.69 L457.13,71.60 L458.69,71.51 L460.25,71.42 L461.81,71.33 L463.37,71.23 L464.93,71.14 L466.49,71.04 L468.05,70.94 L469.60,70.84 L471.16,70.75 L472.72,70.65 L474.28,70.54 L475.84,70.44 L477.40,70.34 L478.96,70.24 L480.52,70.13 L482.07,70.03 L483.63,69.92 L485.19,69.82 L486.75,69.71 L488.31,69.60 L489.87,69.50 L491.43,69.39 L492.99,69.28 L494.54,69.17 L496.10,69.06 L497.66,68.95 L499.22,68.84 L500.78,68.73 L502.34,68.62 L503.90,68.51 L505.46,68.40 L507.02,68.29 L508.57,68.18 L510.13,68.06 L511.69,67.95 L513.25,67.84 L514.81,67.73 L516.37,67.61 L517.93,67.50 L519.49,67.39 L521.04,67.27 L522.60,67.16 L524.16,67.04 L525.72,66.93 L527.28,66.82 L528.84,66.70 L530.40,66.59 L531.96,66.47 L533.51,66.36 L535.07,66.24 L536.63,66.13 L538.19,66.01 L539.75,65.90 L541.31,65.78 L542.87,65.67 L544.43,65.55 L545.98,65.44 L547.54,65.32 L549.10,65.21 L550.66,65.09 L552.22,64.97 L553.78,64.86 L555.34,64.74 L556.90,64.63 L558.46,64.51 L560.01,64.40 L561.57,64.28 L563.13,64.16 L564.69,64.05 L566.25,63.93 L567.81,63.82 L569.37,63.70 L570.93,63.59 L572.48,63.47 L574.04,63.35 L575.60,63.24 L577.16,63.12 L578.72,63.01 L580.28,62.89 L581.84,62.78 L583.40,62.66 L584.95,62.55 L586.51,62.43 L588.07,62.32 L589.63,62.20 L591.19,62.09 L592.75,61.97 L594.31,61.86 L595.87,61.74 L597.43,61.63 L598.98,61.51 L600.54,61.40 L602.10,61.28 L603.66,61.17 L605.22,61.05 L606.78,60.94 L608.34,60.83 L609.90,60.71 L611.45,60.60 L613.01,60.48 L614.57,60.37 L616.13,60.26 L617.69,60.14 L619.25,60.03 L620.81,59.92 L622.37,59.80 L623.92,59.69 L625.48,59.58 L627.04,59.46 L628.60,59.35 L630.16,59.24 L631.72,59.12 L633.28,59.01 L634.84,58.90 L636.39,58.79 L637.95,58.67 L639.51,58.56 L641.07,58.45 L642.63,58.34 L644.19,58.22 L645.75,58.11 L647.31,58.00 L648.87,57.89 L650.42,57.78 L651.98,57.67 L653.54,57.56 L655.10,57.44 L656.66,57.33 L658.22,57.22 L659.78,57.11 L661.34,57.00 L662.89,56.89 L664.45,56.78 L666.01,56.67 L667.57,56.56 L669.13,56.45 L670.69,56.34 L672.25,56.23 L673.81,56.12 L675.36,56.01 L676.92,55.90 L678.48,55.79 L680.04,55.68 L681.60,55.57" fill="none" stroke="#262626" stroke-width="1.35" stroke-dasharray="1.7 2.03" stroke-dashoffset="0.00" stroke-linecap="butt"/>
<text x="365.95" y="237.70" text-anchor="end" class="t">-10</text>
<text x="365.95" y="209.24" text-anchor="end" class="t">0</text>
<text x="365.95" y="180.79" text-anchor="end" class="t">10</text>
<text x="365.95" y="152.33" text-anchor="end" class="t">20</text>
<text x="365.95" y="123.88" text-anchor="end" class="t">30</text>
<text x="365.95" y="95.42" text-anchor="end" class="t">40</text>
<text x="365.95" y="66.96" text-anchor="end" class="t">50</text>
<text x="365.95" y="38.51" text-anchor="end" class="t">60</text>
<text x="365.95" y="10.05" text-anchor="end" class="t">70</text>
<text x="392.03" y="247.6" text-anchor="middle" class="t" style="font-size:10.4px">0.5</text>
<text x="433.39" y="247.6" text-anchor="middle" class="t" style="font-size:10.4px">1</text>
<text x="474.75" y="247.6" text-anchor="middle" class="t" style="font-size:10.4px">1.5</text>
<text x="516.11" y="247.6" text-anchor="middle" class="t" style="font-size:10.4px">2</text>
<text x="557.47" y="247.6" text-anchor="middle" class="t" style="font-size:10.4px">2.5</text>
<text x="598.83" y="247.6" text-anchor="middle" class="t" style="font-size:10.4px">3</text>
<text x="640.19" y="247.6" text-anchor="middle" class="t" style="font-size:10.4px">3.5</text>
<text x="681.55" y="247.6" text-anchor="middle" class="t" style="font-size:10.4px">4</text>
<path d="M39.60,175.0 L80.10,175.0" fill="none" stroke="#ff2020" stroke-width="1.35" stroke-dasharray="2.1 1.95 0.9 2.1" stroke-dashoffset="0.00" stroke-linecap="butt"/>
<path d="M39.60,186.3 L78.90,186.3" fill="none" stroke="#2020ff" stroke-width="1.45" stroke-dasharray="5.2 5.9" stroke-dashoffset="0.00" stroke-linecap="butt"/>
<path d="M39.60,186.3 L78.90,186.3" fill="none" stroke="#2020ff" stroke-width="2.4" stroke-dasharray="0 11.1" stroke-dashoffset="-8.15" stroke-linecap="round"/>
<path d="M39.60,197.5 L79.00,197.5" fill="none" stroke="#ff20ff" stroke-width="1.5" stroke-dasharray="5.7 5.4" stroke-dashoffset="0.00" stroke-linecap="butt"/>
<path d="M39.60,212.1 L81.60,212.1" fill="none" stroke="#262626" stroke-width="1.35" stroke-dasharray="1.7 2.03" stroke-dashoffset="0.00" stroke-linecap="butt"/>
<text transform="translate(98.00,175.10) scale(1.03,1)" class="t">LO</text>
<text transform="translate(98.00,186.30) scale(1.03,1)" class="t">NLO</text>
<text transform="translate(98.00,197.50) scale(1.02,1)" class="t">NNLO</text>
<text x="98.00" y="212.2" class="t">N<tspan dy="-6.8" font-size="7">3</tspan><tspan dy="6.8">LO</tspan><tspan dx="0.9" dy="4.0" font-size="7.1">(sv)</tspan></text>
<path d="M392.10,175.0 L432.60,175.0" fill="none" stroke="#ff2020" stroke-width="1.35" stroke-dasharray="2.1 1.95 0.9 2.1" stroke-dashoffset="0.00" stroke-linecap="butt"/>
<path d="M392.10,186.3 L431.40,186.3" fill="none" stroke="#2020ff" stroke-width="1.45" stroke-dasharray="5.2 5.9" stroke-dashoffset="0.00" stroke-linecap="butt"/>
<path d="M392.10,186.3 L431.40,186.3" fill="none" stroke="#2020ff" stroke-width="2.4" stroke-dasharray="0 11.1" stroke-dashoffset="-8.15" stroke-linecap="round"/>
<path d="M392.10,197.5 L431.50,197.5" fill="none" stroke="#ff20ff" stroke-width="1.5" stroke-dasharray="5.7 5.4" stroke-dashoffset="0.00" stroke-linecap="butt"/>
<path d="M392.10,212.1 L434.10,212.1" fill="none" stroke="#262626" stroke-width="1.35" stroke-dasharray="1.7 2.03" stroke-dashoffset="0.00" stroke-linecap="butt"/>
<text transform="translate(450.50,175.10) scale(1.03,1)" class="t">LO</text>
<text transform="translate(450.50,186.30) scale(1.03,1)" class="t">NLO</text>
<text transform="translate(450.50,197.50) scale(1.02,1)" class="t">NNLO</text>
<text x="450.50" y="212.2" class="t">N<tspan dy="-6.8" font-size="7">3</tspan><tspan dy="6.8">LO</tspan><tspan dx="0.9" dy="4.0" font-size="7.1">(sv)</tspan></text>
<text transform="translate(39.80,35.00) scale(1.0,1)" class="t">dσ (pp</text>
<path d="M70.90,32.3h8.6M77.20,30.2L80.00,32.3L77.20,34.4" fill="none" stroke="#1a1a1a" stroke-width="0.9"/>
<text transform="translate(82.90,35.00) scale(1.0,1)" class="t">A) (pb)</text>
<text transform="translate(230.30,34.90) scale(1.045,1)" class="t">LHC 13 TeV</text>
<text transform="translate(230.30,49.20) scale(1.045,1)" class="t">MSTW2008</text>
<text transform="translate(230.30,63.60) scale(1.04,1)" class="t">μ<tspan dx="0.3" dy="3.4" font-size="7.6">F</tspan><tspan dy="-3.4"> = m</tspan><tspan dx="0.2" dy="3.4" font-size="7.6">A</tspan><tspan dy="-3.4"> = 200 GeV</tspan></text>
<text transform="translate(392.10,35.00) scale(1.0,1)" class="t">dσ (pp</text>
<path d="M423.20,32.3h8.6M429.50,30.2L432.30,32.3L429.50,34.4" fill="none" stroke="#1a1a1a" stroke-width="0.9"/>
<text transform="translate(435.20,35.00) scale(1.0,1)" class="t">A) (pb)</text>
<text transform="translate(582.60,20.70) scale(1.045,1)" class="t">LHC 13 TeV</text>
<text transform="translate(582.60,35.00) scale(1.045,1)" class="t">MSTW2008</text>
<text transform="translate(582.60,49.40) scale(1.015,1)" class="t">μ<tspan dx="0.3" dy="3.4" font-size="7.6">R</tspan><tspan dy="-3.4"> = m</tspan><tspan dx="0.2" dy="3.4" font-size="7.6">A</tspan><tspan dy="-3.4">= 200 GeV</tspan></text>
<text x="174.40" y="260.9" class="ti">μ</text>
<text x="181.50" y="265.9" class="ts">R</text>
<text x="190.10" y="261.3" class="ti">/</text>
<text x="196.40" y="260.9" class="ti">m</text>
<text x="205.60" y="265.9" class="ts">A</text>
<text x="526.80" y="260.9" class="ti">μ</text>
<text x="533.90" y="265.9" class="ts">F</text>
<text x="542.50" y="261.3" class="ti">/</text>
<text x="548.80" y="260.9" class="ti">m</text>
<text x="558.00" y="265.9" class="ts">A</text>
</svg>
</body></html>
